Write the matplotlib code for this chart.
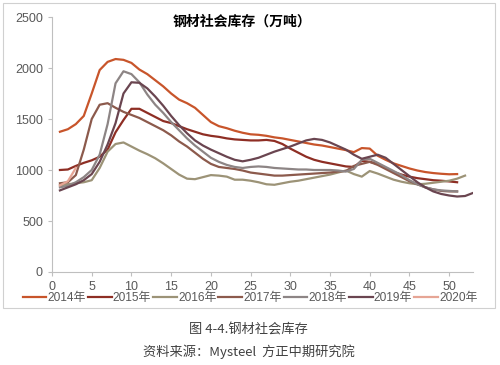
import matplotlib.pyplot as plt
from matplotlib.patches import Rectangle

plt.rcParams['font.family'] = ['Liberation Sans', 'Noto Sans CJK SC']

# 每周钢材社会库存（万吨），周序号从1开始
y2014 = [1375, 1400, 1450, 1530, 1750, 1980, 2060, 2088, 2080, 2050,
         1985, 1940, 1880, 1820, 1750, 1690, 1655, 1610, 1540, 1470,
         1430, 1410, 1385, 1365, 1350, 1345, 1335, 1320, 1310, 1295,
         1280, 1265, 1250, 1240, 1225, 1210, 1195, 1175, 1215, 1210,
         1140, 1100, 1065, 1040, 1015, 995, 980, 970, 963, 958, 960]
y2015 = [1000, 1005, 1040, 1070, 1095, 1130, 1200, 1370, 1490, 1600,
         1600, 1560, 1520, 1480, 1460, 1430, 1400, 1375, 1350, 1335,
         1325, 1310, 1300, 1295, 1290, 1290, 1295, 1285, 1255, 1210,
         1170, 1130, 1100, 1080, 1065, 1050, 1035, 1030, 1090, 1080,
         1060, 1020, 980, 955, 935, 920, 910, 900, 895, 888, 880]
y2016 = [850, 860, 870, 880, 900, 1020, 1180, 1255, 1270, 1230,
         1190, 1155, 1115, 1065, 1010, 955, 915, 910, 930, 950,
         945, 935, 905, 905, 895, 880, 860, 855, 870, 885,
         895, 910, 925, 940, 955, 975, 995, 960, 935, 990,
         965, 935, 905, 885, 870, 860, 865, 875, 885, 895, 915, 945]
y2017 = [870, 880, 950, 1200, 1500, 1640, 1655, 1610, 1570, 1540,
         1510, 1470, 1430, 1390, 1340, 1280, 1230, 1170, 1110, 1060,
         1030, 1020, 1010, 995, 975, 965, 955, 945, 945, 950,
         955, 960, 965, 970, 975, 985, 990, 1040, 1060, 1080,
         1050, 1010, 970, 930, 890, 860, 830, 810, 795, 790, 790]
y2018 = [830, 845, 880, 930, 1000, 1150, 1450, 1850, 1968, 1940,
         1860, 1740, 1640, 1560, 1470, 1390, 1310, 1240, 1180, 1120,
         1080, 1050, 1030, 1020, 1030, 1035, 1030, 1020, 1015, 1010,
         1005, 1005, 1000, 1000, 1000, 995, 985, 1010, 1100, 1110,
         1070, 1030, 990, 950, 900, 860, 830, 810, 800, 795, 790]
y2019 = [800, 830, 860, 900, 960, 1080, 1250, 1460, 1750, 1860,
         1855, 1800, 1720, 1630, 1530, 1440, 1360, 1290, 1240, 1200,
         1165, 1130, 1100, 1085, 1100, 1120, 1150, 1180, 1205, 1230,
         1260, 1290, 1305, 1295, 1270, 1235, 1200, 1150, 1110, 1130,
         1150, 1120, 1060, 1000, 940, 880, 830, 790, 765, 750,
         740, 745, 775]
y2020 = [850, 890, 1020]

series = [
    ('2014年', y2014, '#C8552B'),
    ('2015年', y2015, '#8E2E24'),
    ('2016年', y2016, '#9C9377'),
    ('2017年', y2017, '#8C5A4C'),
    ('2018年', y2018, '#8D8585'),
    ('2019年', y2019, '#6A4550'),
    ('2020年', y2020, '#E6A595'),
]

fig = plt.figure(figsize=(5, 3.65), dpi=100)
ax = fig.add_axes([0.104, 0.2548, 0.842, 0.6986])

for name, vals, col in series:
    weeks = list(range(1, len(vals) + 1))
    ax.plot(weeks, vals, color=col, lw=1.6, label=name)

ax.set_xlim(0, 53)
ax.set_ylim(0, 2500)
ax.set_xticks(range(0, 51, 5))
ax.set_yticks(range(0, 2501, 500))
for s in ['top', 'right']:
    ax.spines[s].set_visible(False)
for s in ['left', 'bottom']:
    ax.spines[s].set_color('#BFBFBF')
    ax.spines[s].set_linewidth(0.8)
ax.tick_params(colors='#BFBFBF', labelcolor='#595959', labelsize=9,
               length=3, width=0.8)

fig.text(0.484, 0.94, '钢材社会库存（万吨）', ha='center', va='center',
         fontsize=10, fontweight='bold', family=['Noto Sans CJK SC'])

fig.legend(loc='center', bbox_to_anchor=(0.5, 0.183), ncol=7, frameon=False,
           fontsize=8.6, handlelength=2.0, handletextpad=0.1,
           columnspacing=0.15, labelcolor='#595959', borderaxespad=0,
           borderpad=0)

fig.patches.append(Rectangle((0.006, 1 - 308 / 365), 0.984, 305 / 365,
                             transform=fig.transFigure, fill=False,
                             edgecolor='#D0D0D0', lw=0.8))

fig.text(0.497, 0.096, '图 4-4.钢材社会库存', ha='center', va='center',
         fontsize=9.5, color='#404040', family=['Noto Sans CJK SC'])
fig.text(0.497, 0.036, '资料来源：Mysteel  方正中期研究院', ha='center',
         va='center', fontsize=9.5, color='#404040',
         family=['Noto Sans CJK SC'])

fig.savefig('out.png', dpi=100)
